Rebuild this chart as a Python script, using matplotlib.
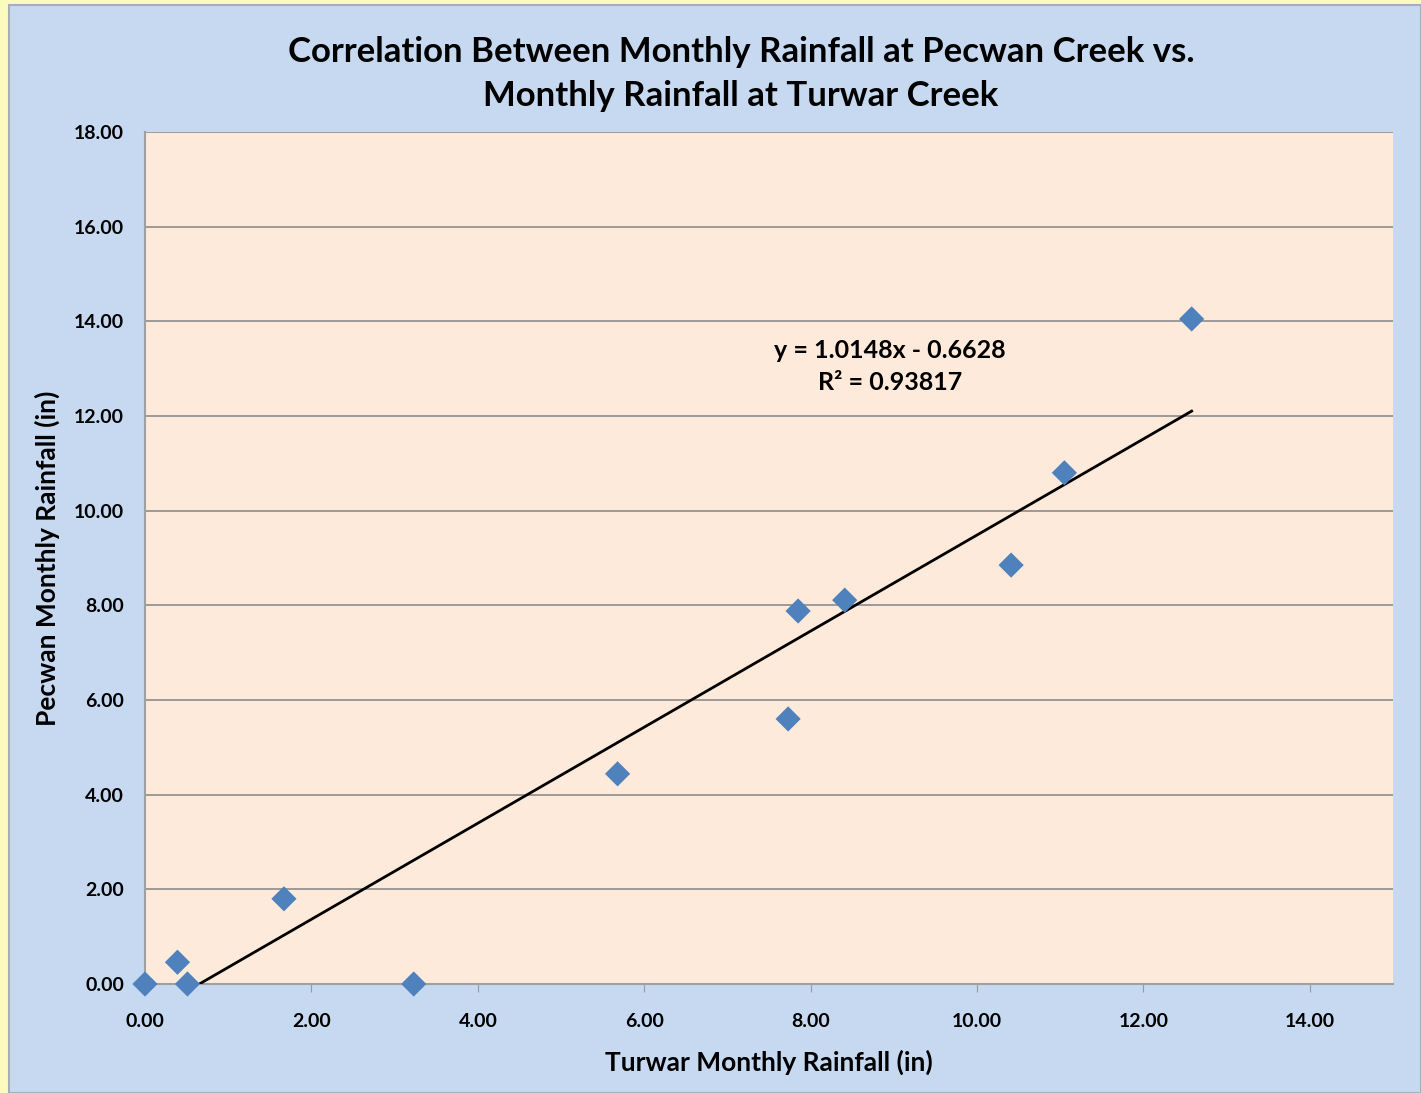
import matplotlib
matplotlib.use("Agg")
import matplotlib.pyplot as plt
from matplotlib.patches import Rectangle
import numpy as np

plt.rcParams['font.family'] = ['Lato', 'DejaVu Sans']

turwar = [0.00, 0.39, 0.51, 1.67, 3.23, 5.68, 7.73, 7.85, 8.41, 10.41, 11.05, 12.58]
pecwan = [0.00, 0.46, 0.00, 1.80, 0.00, 4.44, 5.60, 7.88, 8.11, 8.85, 10.80, 14.05]
slope = 1.0148
intercept = -0.6628
r2 = 0.93817
xticks = [0, 2, 4, 6, 8, 10, 12, 14]
yticks = [0, 2, 4, 6, 8, 10, 12, 14, 16, 18]

W, H = 1421, 1093
fig = plt.figure(figsize=(W/100, H/100), dpi=100)
fig.patch.set_facecolor('#FBFBC0')
bg = Rectangle((9/W, 0), 1 - 9/W, 1 - 5/H, transform=fig.transFigure,
               facecolor='#C6D9F0', edgecolor='#A8AEB8', linewidth=1.5, zorder=-10)
fig.add_artist(bg)

ax = fig.add_axes([145/W, 1 - 984/H, (1393-145)/W, (984-132)/H])
ax.set_zorder(1)
ax.set_facecolor('#FDEADA')
ax.set_xlim(0, 15)
ax.set_ylim(0, 18)
ax.set_xticks(xticks)
ax.set_yticks(yticks)
ax.set_xticklabels([f"{v:.2f}" for v in xticks], fontsize=14, fontweight='bold')
ax.set_yticklabels([f"{v:.2f}" for v in yticks], fontsize=14, fontweight='bold')
ax.tick_params(axis='x', direction='out', length=6, color='#999999', pad=15)
ax.tick_params(axis='y', length=0, pad=15)
ax.grid(axis='y', color='#8C8C8C', linewidth=1.2)
ax.set_axisbelow(True)
for s in ['top', 'right']:
    ax.spines[s].set_visible(False)
for s in ['left', 'bottom']:
    ax.spines[s].set_color('#A0A0A0')
    ax.spines[s].set_linewidth(1.5)

# trendline
x0 = -intercept / slope
xl = np.array([x0, max(turwar)])
ax.plot(xl, slope * xl + intercept, color='black', linewidth=2, zorder=3)

ax.scatter(turwar, pecwan, marker='D', s=165, color='#4F81BD', edgecolors='none', zorder=4, clip_on=False)

ax.text(8.95, 13.05, f"y = {slope}x - {abs(intercept)}\nR² = {r2}", ha='center', va='center',
        fontsize=18, fontweight='bold', linespacing=1.5)

ax.set_xlabel('Turwar Monthly Rainfall (in)', fontsize=19, fontweight='bold', labelpad=14)
ax.set_ylabel('Pecwan Monthly Rainfall (in)', fontsize=19, fontweight='bold', labelpad=10)

fig.text(741/W, 1 - 74/H, 'Correlation Between Monthly Rainfall at Pecwan Creek vs.\nMonthly Rainfall at Turwar Creek',
         ha='center', va='center', fontsize=25, fontweight='bold', linespacing=1.5)

fig.savefig('out.png', dpi=100, facecolor=fig.get_facecolor())
